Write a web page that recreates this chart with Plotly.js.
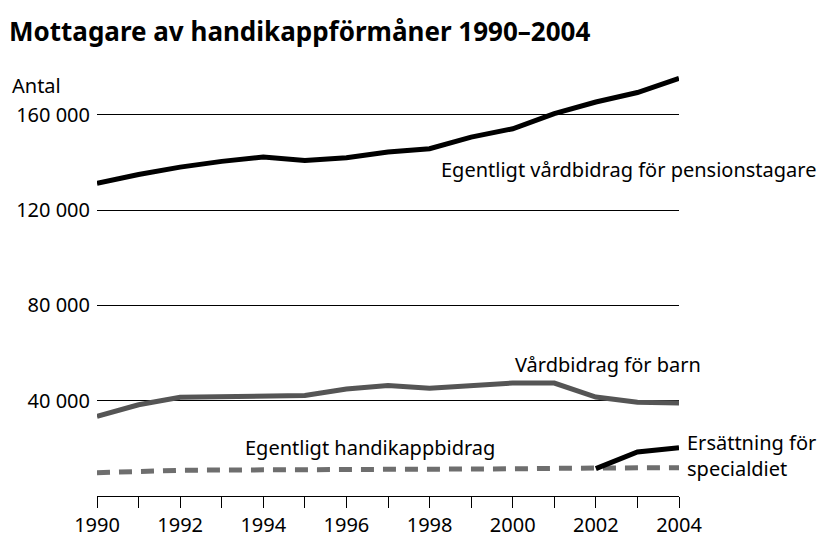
<!DOCTYPE html>
<html>
<head>
<meta charset="utf-8">
<script src="https://cdn.plot.ly/plotly-3.0.1.min.js"></script>
<style>html,body{margin:0;padding:0;background:#fff;}#chart{width:819px;height:538px;}</style>
</head>
<body>
<div id="chart"></div>
<script>
const years = [1990,1991,1992,1993,1994,1995,1996,1997,1998,1999,2000,2001,2002,2003,2004];
const pensionstagare = [131200,134900,138000,140400,142200,140800,141900,144300,145700,150600,154100,160400,165300,169300,175200];
const barn = [33400,38300,41400,41800,41700,42200,44900,46400,45200,46300,47400,47400,41500,39300,39000];
const handikappbidrag = [9800,10400,10800,10900,10900,10900,11000,11000,11100,11200,11400,11600,11800,11900,11900];
const specialdietYears = [2002,2003,2004];
const specialdiet = [11500,18500,20300];
const yTickVals = [40000,80000,120000,160000];
const yTickText = ['40 000','80 000','120 000','160 000'];
const xTickText = years.map(y => (y % 2 === 0 ? String(y) : ''));

const FONT = 'Noto Sans, Open Sans, sans-serif';
const FS = 20;

const traces = [
  {x: years, y: handikappbidrag, mode: 'lines', line: {color: '#6e6e6e', width: 5, dash: '13px,9px'}, hoverinfo: 'skip'},
  {x: years, y: barn, mode: 'lines', line: {color: '#555555', width: 5}, hoverinfo: 'skip'},
  {x: years, y: pensionstagare, mode: 'lines', line: {color: '#000000', width: 5}, hoverinfo: 'skip'},
  {x: specialdietYears, y: specialdiet, mode: 'lines', line: {color: '#000000', width: 5}, hoverinfo: 'skip'}
];

const layout = {
  width: 819, height: 538,
  margin: {l: 97, r: 140, t: 67, b: 42},
  paper_bgcolor: '#fff', plot_bgcolor: '#fff',
  showlegend: false,
  font: {family: FONT, size: FS, color: '#000'},
  title: {text: '<b>Mottagare av handikappförmåner 1990–2004</b>', x: 0, xref: 'container', xanchor: 'left',
          y: 1, yref: 'container', yanchor: 'top', pad: {t: 23, l: 9},
          font: {family: FONT, size: 26, color: '#000'}},
  xaxis: {range: [1990, 2004], tickvals: years, ticktext: xTickText, ticks: 'outside', ticklen: 11, tickwidth: 1,
          tickcolor: '#000', showline: true, linecolor: '#000', linewidth: 1, showgrid: false, zeroline: false,
          tickfont: {family: FONT, size: FS, color: '#000'}, fixedrange: true},
  yaxis: {range: [0, 180000], tickvals: yTickVals, ticktext: yTickText, ticks: '', showline: false,
          showgrid: true, gridcolor: '#000', gridwidth: 1, zeroline: false, ticklabelstandoff: 6,
          tickfont: {family: FONT, size: FS, color: '#000'}, fixedrange: true},
  annotations: [
    {text: 'Antal', xref: 'paper', yref: 'paper', x: -87/582, y: 1 - 19/429, xanchor: 'left', yanchor: 'middle', showarrow: false, font: {size: FS}},
    {text: 'Egentligt vårdbidrag för pensionstagare', xref: 'x', yref: 'y', x: 2004, y: 136800, xanchor: 'right', yanchor: 'middle', xshift: 139, showarrow: false, font: {size: FS}},
    {text: 'Vårdbidrag för barn', xref: 'x', yref: 'y', x: 2004, y: 55100, xanchor: 'right', yanchor: 'middle', xshift: 24, showarrow: false, font: {size: FS}},
    {text: 'Egentligt handikappbidrag', xref: 'x', yref: 'y', x: 1999.62, y: 20200, xanchor: 'right', yanchor: 'middle', showarrow: false, font: {size: FS}},
    {text: 'Ersättning för<br>specialdiet', xref: 'x', yref: 'y', x: 2004, y: 17000, xanchor: 'left', yanchor: 'middle', xshift: 6, align: 'left', showarrow: false, font: {size: FS}}
  ]
};

Plotly.newPlot('chart', traces, layout, {displayModeBar: false, staticPlot: true});
</script>
</body>
</html>
